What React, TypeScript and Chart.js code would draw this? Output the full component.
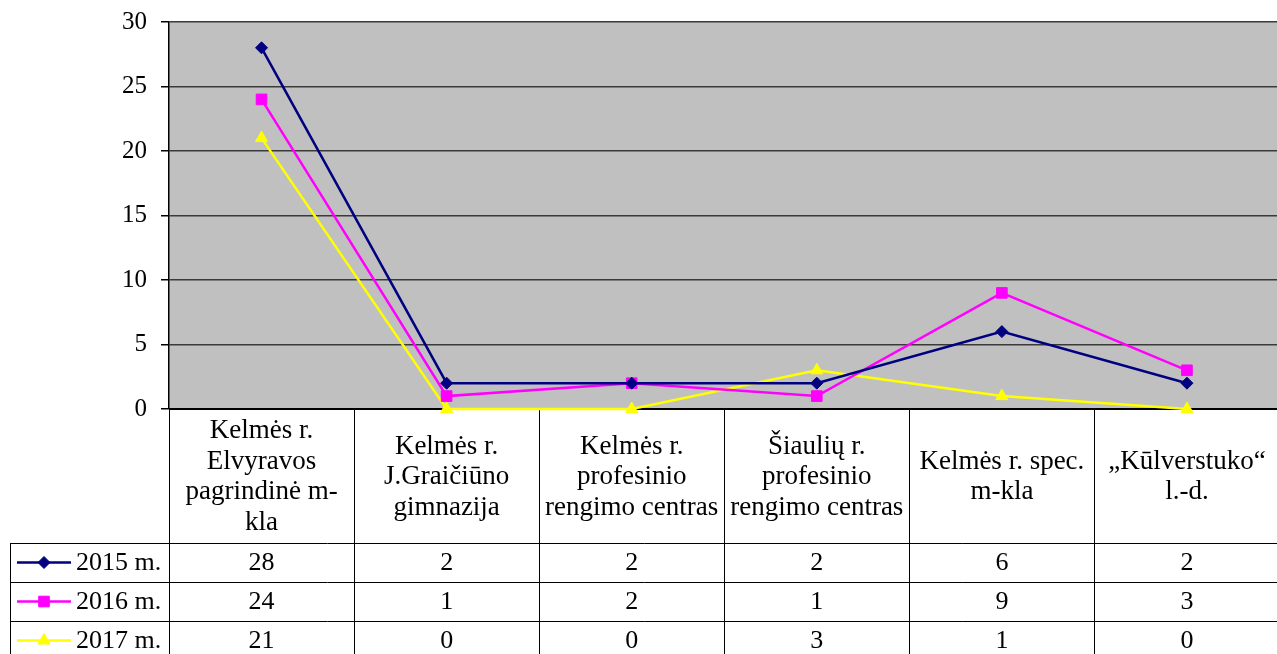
import React, { useEffect, useRef } from 'react';
import { Chart, registerables } from 'chart.js';
import { drawPoint } from 'chart.js/helpers';

Chart.register(...registerables);

const categoryLines: string[][] = [
  ['Kelmės r.', 'Elvyravos', 'pagrindinė m-', 'kla'],
  ['Kelmės r.', 'J.Graičiūno', 'gimnazija'],
  ['Kelmės r.', 'profesinio', 'rengimo centras'],
  ['Šiaulių r.', 'profesinio', 'rengimo centras'],
  ['Kelmės r. spec.', 'm-kla'],
  ['„Kūlverstuko“', 'l.-d.'],
];
const categories = categoryLines.map((l) => l.join(' '));
const seriesNames = ['2015 m.', '2016 m.', '2017 m.'];
const values2015 = [28, 2, 2, 2, 6, 2];
const values2016 = [24, 1, 2, 1, 9, 3];
const values2017 = [21, 0, 0, 3, 1, 0];
const seriesColors = ['#000080', '#FF00FF', '#FFFF00'];
const seriesMarkers = ['rectRot', 'rect', 'triangle'];
const seriesRadius = [6, 7.5, 7];
const yMin = 0;
const yMax = 30;
const yStep = 5;

const FONT = '"Liberation Serif", "Times New Roman", serif';
const TICK_SIZE = 25;
const HEAD_SIZE = 27;
const CELL_SIZE = 26;

const CANVAS_W = 1288;
const CANVAS_H = 662;

const allValues = [values2015, values2016, values2017];

const tablePlugin = {
  id: 'dataTable',
  beforeDraw(chart: any) {
    const { ctx, chartArea: ca } = chart;
    ctx.save();
    ctx.fillStyle = '#C0C0C0';
    ctx.fillRect(ca.left, ca.top, ca.right - ca.left, ca.bottom - ca.top);
    ctx.restore();
  },
  beforeDatasetsDraw(chart: any) {
    const { ctx, chartArea: ca } = chart;
    const x = chart.scales.x;
    const n = categories.length;
    const half = (x.getPixelForValue(1) - x.getPixelForValue(0)) / 2;
    const headerTop = ca.bottom;
    const headerBottom = ca.bottom + 134;
    const rowH = 39;
    const legendLeft = 10;
    const tableBottom = headerBottom + rowH * 3;

    ctx.save();
    ctx.strokeStyle = '#000';
    ctx.lineWidth = 1;
    for (let i = 0; i <= n; i++) {
      const px = Math.round((i < n ? x.getPixelForValue(i) - half : x.getPixelForValue(n - 1) + half)) + 0.5;
      ctx.beginPath();
      ctx.moveTo(px, headerTop);
      ctx.lineTo(px, tableBottom);
      ctx.stroke();
    }
    ctx.beginPath();
    ctx.moveTo(legendLeft + 0.5, headerBottom);
    ctx.lineTo(legendLeft + 0.5, tableBottom);
    ctx.stroke();
    for (let r = 0; r <= 3; r++) {
      const py = Math.round(headerBottom + r * rowH) + 0.5;
      ctx.beginPath();
      ctx.moveTo(legendLeft, py);
      ctx.lineTo(ca.right, py);
      ctx.stroke();
    }
    ctx.lineWidth = 2;
    ctx.beginPath();
    ctx.moveTo(ca.left, ca.bottom);
    ctx.lineTo(ca.right, ca.bottom);
    ctx.stroke();

    ctx.fillStyle = '#000';
    ctx.font = `${HEAD_SIZE}px ${FONT}`;
    ctx.textAlign = 'center';
    ctx.textBaseline = 'middle';
    const lineH = 30.5;
    const headerMid = (headerTop + headerBottom) / 2 + 1;
    categoryLines.forEach((lines, i) => {
      const cx = x.getPixelForValue(i);
      const startY = headerMid - ((lines.length - 1) * lineH) / 2;
      lines.forEach((t, j) => ctx.fillText(t, cx, startY + j * lineH));
    });
    ctx.font = `${CELL_SIZE}px ${FONT}`;
    allValues.forEach((vals, r) => {
      const cy = headerBottom + r * rowH + rowH / 2 + 1;
      ctx.fillStyle = '#000';
      vals.forEach((v, i) => ctx.fillText(String(v), x.getPixelForValue(i), cy));
      ctx.strokeStyle = seriesColors[r];
      ctx.lineWidth = 2.5;
      ctx.beginPath();
      ctx.moveTo(17, cy - 1);
      ctx.lineTo(71, cy - 1);
      ctx.stroke();
      ctx.fillStyle = seriesColors[r];
      ctx.lineWidth = 1;
      drawPoint(ctx, { pointStyle: seriesMarkers[r], radius: seriesRadius[r], rotation: 0, borderWidth: 1 } as any, 44, cy - 1);
      ctx.fillStyle = '#000';
      ctx.textAlign = 'left';
      ctx.fillText(seriesNames[r], 76, cy);
      ctx.textAlign = 'center';
    });
    ctx.restore();
  },
};

export default function App() {
  const ref = useRef<HTMLCanvasElement | null>(null);
  useEffect(() => {
    if (!ref.current) return;
    const chart = new Chart(ref.current, {
      type: 'line',
      data: {
        labels: categories,
        datasets: allValues.map((vals, i) => ({
          label: seriesNames[i],
          data: vals,
          borderColor: seriesColors[i],
          backgroundColor: seriesColors[i],
          borderWidth: 2.5,
          pointStyle: seriesMarkers[i] as any,
          pointRadius: seriesRadius[i],
          pointBorderWidth: 1,
          tension: 0,
          clip: false as any,
        })),
      },
      options: {
        animation: false,
        responsive: false,
        devicePixelRatio: window.devicePixelRatio || 1,
        layout: { padding: { top: 22, bottom: CANVAS_H - 409, left: 0, right: 0 } },
        plugins: { legend: { display: false }, tooltip: { enabled: false } },
        scales: {
          x: { type: 'category', display: false, offset: true },
          y: {
            min: yMin,
            max: yMax,
            ticks: { stepSize: yStep, color: '#000', padding: 14, font: { family: FONT, size: TICK_SIZE } },
            grid: { color: '#3a3a3a', lineWidth: 1.5, tickLength: 8, tickColor: '#000', drawTicks: true },
            border: { display: true, color: '#000', width: 1.5 },
            afterFit: (s: any) => {
              s.width = 169;
              s.paddingTop = 0;
              s.paddingBottom = 0;
            },
          },
        },
      },
      plugins: [tablePlugin],
    });
    return () => chart.destroy();
  }, []);
  return (
    <div style={{ position: 'fixed', left: 0, top: 0, width: 1277, height: 654, overflow: 'hidden', background: '#fff' }}>
      <canvas ref={ref} width={CANVAS_W} height={CANVAS_H} style={{ width: CANVAS_W, height: CANVAS_H, display: 'block' }} />
    </div>
  );
}
